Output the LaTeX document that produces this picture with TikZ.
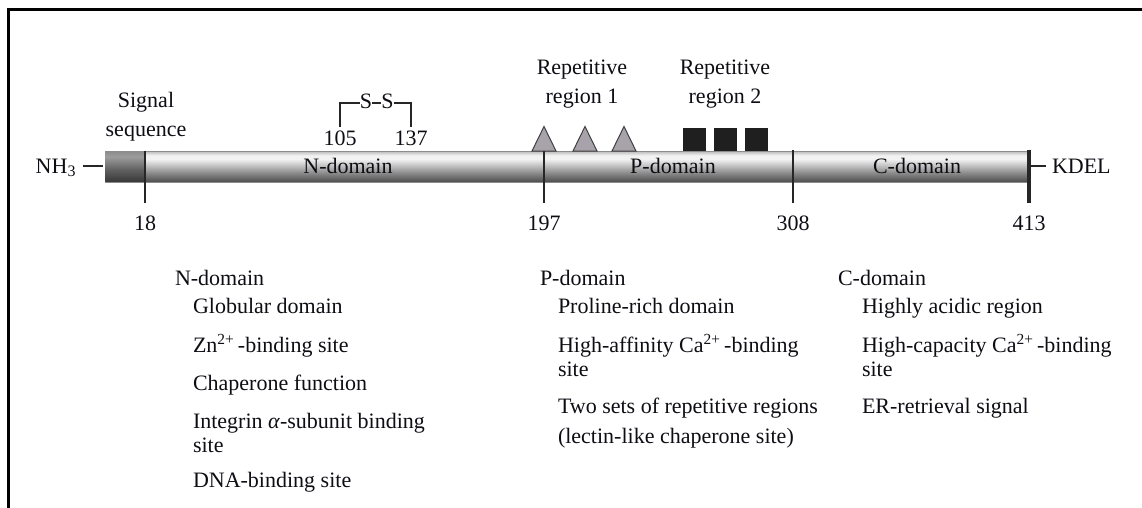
\documentclass[tikz,border=0pt]{standalone}
\usepackage{fontspec}
\setmainfont{Liberation Serif}
\definecolor{barTop}{HTML}{B8B8B8}
\definecolor{barHi}{HTML}{F2F2F2}
\definecolor{barBot}{HTML}{4C4C4C}
\definecolor{sigTop}{HTML}{8C8C8C}
\definecolor{sigHi}{HTML}{9C9C9C}
\definecolor{sigBot}{HTML}{383838}
\definecolor{triFill}{HTML}{A8A2AA}
\definecolor{txtcol}{HTML}{0D0D14}
\pgfdeclareverticalshading{barshade}{100bp}{color(0bp)=(barBot); color(25bp)=(barBot); color(40bp)=(black!45); color(62bp)=(barHi); color(68bp)=(barHi); color(75bp)=(barTop); color(100bp)=(barTop)}
\pgfdeclareverticalshading{sigshade}{100bp}{color(0bp)=(sigBot); color(25bp)=(sigBot); color(45bp)=(black!62); color(66bp)=(sigHi); color(75bp)=(sigTop); color(100bp)=(sigTop)}
\begin{document}
\begin{tikzpicture}[x=1pt,y=-1pt,
  txt/.style={inner sep=0pt, outer sep=0pt, anchor=base, text=txtcol, font=\fontsize{22}{24}\selectfont},
  ltxt/.style={txt, anchor=base west},
  tick/.style={line width=2.6pt, black!85},
  conn/.style={line width=2.4pt, black!85},
  tri/.style={fill=triFill, draw=black!75, line width=1pt, line join=miter},
  sq/.style={fill=black!88, draw=none},
  frame/.style={line width=3pt, black}]
\useasboundingbox (0,0) rectangle (1142,508);
% frame (top and left only)
\draw[frame] (1142,10) -- (8.5,10) -- (8.5,508);
% bar
\shade[shading=barshade, draw=black!45, line width=0.6pt] (105,151) rectangle (1029,182);
\shade[shading=sigshade] (105.3,151.3) rectangle (144,181.7);
% coordinates for ticks
\coordinate (t18a) at (145,151); \coordinate (t18b) at (145,203);
\coordinate (t197a) at (544,150); \coordinate (t197b) at (544,203);
\coordinate (t308a) at (793,150); \coordinate (t308b) at (793,203);
\coordinate (t413a) at (1029,150); \coordinate (t413b) at (1029,203);
\draw[tick] (t18a) -- (t18b);
\draw[tick] (t197a) -- (t197b);
\draw[tick] (t308a) -- (t308b);
\draw[tick, line width=3.2pt] (t413a) -- (t413b);
% triangles
\draw[tri] (532,151) -- (544,126.5) -- (556,151) -- cycle;
\draw[tri] (573,151) -- (585,126.5) -- (597,151) -- cycle;
\draw[tri] (612,151) -- (624,126.5) -- (636,151) -- cycle;
\draw[tick] (544,151) -- (t197b);
% squares
\fill[sq] (683,128) rectangle (706,151);
\fill[sq] (714,128) rectangle (737,151);
\fill[sq] (745,128) rectangle (768,151);
% bar labels
\node[txt] (ndom) at (348,173) {N-domain};
\node[txt] (pdom) at (673,173) {P-domain};
\node[txt] (cdom) at (917,173) {C-domain};
% ends
\node[txt, anchor=base east] (nh3) at (76,173) {NH\textsubscript{\fontsize{16}{16}\selectfont 3}};
\coordinate (nh3r) at (83,166); \coordinate (barl) at (103,166);
\draw[conn, line width=2pt] (nh3r) -- (barl);
\node[ltxt] (kdel) at (1052,173) {KDEL};
\coordinate (barr) at (1029,166); \coordinate (kdell) at (1046,166);
\draw[conn, line width=2pt] (barr) -- (kdell);
% position numbers
\node[txt] (n18) at (145,230) {18};
\node[txt] (n197) at (544,230) {197};
\node[txt] (n308) at (793,230) {308};
\node[txt] (n413) at (1029,230) {413};
% signal sequence
\node[txt] (sig1) at (146,108) {Signal};
\node[txt] (sig2) at (146,136) {sequence};
% disulfide
\node[txt] (n105) at (340,146) {105};
\node[txt] (n137) at (411,146) {137};
\node[txt] (s1) at (366,109) {S};
\node[txt] (s2) at (387.5,109) {S};
\coordinate (c105) at (340,127); \coordinate (c137) at (411,127);
\draw[conn, line cap=butt] (c105) -- (340,103) -- (s1.west |- 0,103);
\draw[conn, line width=1.4pt] (s1.east |- 0,103) -- (s2.west |- 0,103);
\draw[conn, line cap=butt] (s2.east |- 0,103) -- (411,103) -- (c137);
% repetitive regions
\node[txt] (rep1a) at (582,75) {Repetitive};
\node[txt] (rep1b) at (582,103) {region 1};
\node[txt] (rep2a) at (725,75) {Repetitive};
\node[txt] (rep2b) at (725,103) {region 2};
% N-domain list
\node[ltxt] (nh) at (175,285) {N-domain};
\node[ltxt] (n1) at (193,313) {Globular domain};
\node[ltxt] (n2) at (193,352) {Zn\textsuperscript{2+}\,-binding site};
\node[ltxt] (n3) at (193,390) {Chaperone function};
\node[ltxt] (n4) at (193,428) {Integrin \textit{α}-subunit binding};
\node[ltxt] (n4b) at (193,452) {site};
\node[ltxt] (n5) at (193,487) {DNA-binding site};
% P-domain list
\node[ltxt] (ph) at (540,285) {P-domain};
\node[ltxt] (p1) at (558,313) {Proline-rich domain};
\node[ltxt] (p2) at (558,352) {High-affinity Ca\textsuperscript{2+}\,-binding};
\node[ltxt] (p2b) at (558,376) {site};
\node[ltxt] (p3) at (558,413) {Two sets of repetitive regions};
\node[ltxt] (p3b) at (558,443) {(lectin-like chaperone site)};
% C-domain list
\node[ltxt] (ch) at (838,285) {C-domain};
\node[ltxt] (c1) at (862,313) {Highly acidic region};
\node[ltxt] (c2) at (862,352) {High-capacity Ca\textsuperscript{2+}\,-binding};
\node[ltxt] (c2b) at (862,376) {site};
\node[ltxt] (c3) at (862,413) {ER-retrieval signal};
\end{tikzpicture}
\end{document}
